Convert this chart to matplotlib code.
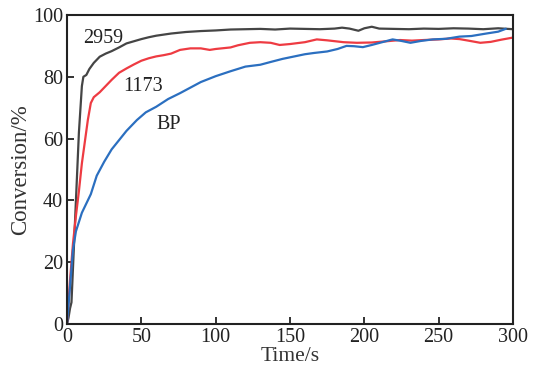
import numpy as np
from matplotlib import pyplot as plt

# conversion curves
t_2959 = [0, 1, 2, 3, 4, 5, 6, 8, 10, 11, 13, 15, 18, 22, 26, 30, 35, 40, 45, 50, 55, 60, 70, 80, 90,
          100, 110, 120, 130, 140, 150, 160, 170, 180, 185, 190, 196, 200, 205, 210, 220, 230, 240,
          250, 260, 270, 280, 290, 300]
c_2959 = [0, 2, 5, 7, 18, 29, 40, 62, 77, 80, 80.6, 82.5, 84.5, 86.5, 87.5, 88.3, 89.5, 90.8, 91.5,
          92.2, 92.8, 93.3, 94, 94.5, 94.8, 95.0, 95.3, 95.4, 95.5, 95.3, 95.6, 95.5, 95.4, 95.6,
          95.9, 95.6, 94.9, 95.7, 96.2, 95.6, 95.5, 95.4, 95.6, 95.5, 95.7, 95.6, 95.4, 95.7, 95.4]

t_1173 = [0, 2, 4, 6, 8, 10, 12, 14, 16, 18, 22, 26, 30, 35, 40, 45, 50, 55, 60, 65, 70, 76, 83, 90,
          96, 100, 110, 115, 123, 130, 137, 143, 150, 160, 168, 175, 186, 195, 205, 215, 224, 232,
          240, 250, 258, 264, 270, 278, 285, 292, 300]
c_1173 = [0, 14, 26, 35, 43, 52, 59, 66, 71.5, 73.4, 75, 77, 79, 81.3, 82.7, 84, 85.2, 86, 86.6, 87,
          87.5, 88.7, 89.2, 89.2, 88.7, 89, 89.5, 90.2, 91, 91.2, 91, 90.3, 90.6, 91.2, 92.1, 91.8,
          91.2, 91, 91.1, 91.5, 91.9, 91.7, 91.9, 92.1, 92.4, 92.2, 91.7, 91, 91.3, 92, 92.7]

t_bp = [0, 2, 4, 6, 8, 10, 13, 16, 20, 25, 30, 35, 40, 47, 53, 60, 68, 76, 83, 90, 100, 110, 120, 130,
        137, 145, 152, 160, 166, 175, 182, 188, 193, 199, 205, 212, 219, 225, 231, 238, 246, 255,
        264, 272, 282, 290, 295]
c_bp = [0, 12, 24, 30, 33, 36, 39, 42, 48, 52.5, 56.5, 59.5, 62.5, 66, 68.5, 70.3, 72.8, 74.7, 76.5,
        78.3, 80.2, 81.8, 83.3, 83.9, 84.8, 85.8, 86.5, 87.3, 87.7, 88.2, 89, 90, 89.9, 89.6, 90.3,
        91.2, 92.1, 91.6, 91, 91.6, 92.1, 92.3, 93, 93.2, 94, 94.6, 95.5]

x_ticks = [0, 50, 100, 150, 200, 250, 300]
y_ticks = [0, 20, 40, 60, 80, 100]

plt.rcParams['font.family'] = ['Liberation Serif', 'DejaVu Serif']
plt.rcParams['font.size'] = 14

fig = plt.figure(figsize=(5.34, 3.73), dpi=100)
ax = fig.add_axes([0.1255, 0.1314, 0.8352, 0.8284])

ax.plot(t_2959, c_2959, color='#454545', lw=1.6)
ax.plot(t_1173, c_1173, color='#ee3b42', lw=1.6)
ax.plot(t_bp, c_bp, color='#2b6fc0', lw=1.6)

ax.text(10.5, 92.3, '2959', fontsize=14.5, va='center', color='#222222')
ax.text(37.5, 77.0, '1173', fontsize=14.5, va='center', color='#222222')
ax.text(60, 64.7, 'BP', fontsize=14.5, va='center', color='#222222')

ax.set_xlim(0, 300)
ax.set_ylim(0, 100)
ax.set_xticks(x_ticks)
ax.set_yticks(y_ticks)
ax.tick_params(direction='in', length=5, width=1.3, pad=3, top=False, right=False,
               colors='#222222', labelsize=14.5)
for s in ax.spines.values():
    s.set_linewidth(1.5)
    s.set_color('#222222')

ax.set_xlabel('Time/s', fontsize=15.5, labelpad=0, color='#333333')
ax.set_ylabel('Conversion/%', fontsize=16.5, labelpad=1, color='#333333')

fig.savefig('out.png', dpi=100)
